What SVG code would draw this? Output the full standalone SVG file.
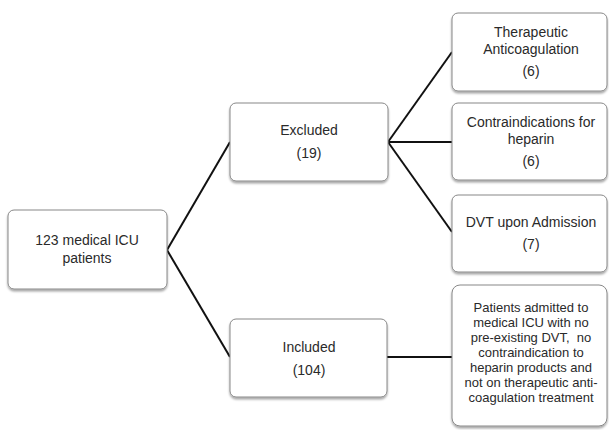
<svg xmlns="http://www.w3.org/2000/svg" width="609" height="430" viewBox="0 0 609 430">
<defs>
<filter id="sh" x="-10%" y="-10%" width="120%" height="130%">
<feDropShadow dx="0" dy="2" stdDeviation="1.2" flood-color="#000" flood-opacity="0.35"/>
</filter>
</defs>
<style>
.box{fill:#fff;stroke:#888;stroke-width:1;filter:url(#sh)}
.t{font-family:"Liberation Sans",Arial,sans-serif;font-size:14px;fill:#2a2a2a;text-anchor:middle}
.s{font-size:13px}
.c{stroke:#111;stroke-width:2;fill:none}
</style>
<rect width="609" height="430" fill="#fff"/>
<g id="connectors">
<line class="c" x1="167" y1="250" x2="230" y2="142"/>
<line class="c" x1="167" y1="250" x2="230" y2="357"/>
<line class="c" x1="388" y1="142" x2="452" y2="52"/>
<line class="c" x1="388" y1="142" x2="452" y2="142"/>
<line class="c" x1="388" y1="142" x2="452" y2="232"/>
<line class="c" x1="387" y1="357" x2="452" y2="357"/>
</g>
<g id="n-icu">
<rect class="box" x="8" y="210" width="159" height="79" rx="6"/>
<text class="t" x="87" y="245">123 medical ICU</text>
<text class="t" x="87" y="263">patients</text>
</g>
<g id="n-excluded">
<rect class="box" x="230" y="103" width="158" height="78" rx="6"/>
<text class="t" x="309" y="135">Excluded</text>
<text class="t" x="309" y="158">(19)</text>
</g>
<g id="n-included">
<rect class="box" x="230" y="319" width="157" height="78" rx="6"/>
<text class="t" x="309" y="352">Included</text>
<text class="t" x="309" y="375">(104)</text>
</g>
<g id="n-therapeutic">
<rect class="box" x="452" y="13" width="155" height="78" rx="6"/>
<text class="t" x="531" y="37">Therapeutic</text>
<text class="t" x="531" y="54">Anticoagulation</text>
<text class="t" x="531" y="76">(6)</text>
</g>
<g id="n-contra">
<rect class="box" x="452" y="103" width="155" height="77" rx="6"/>
<text class="t" x="531" y="127">Contraindications for</text>
<text class="t" x="531" y="144">heparin</text>
<text class="t" x="531" y="166">(6)</text>
</g>
<g id="n-dvt">
<rect class="box" x="452" y="195" width="155" height="77" rx="6"/>
<text class="t" x="531" y="227">DVT upon Admission</text>
<text class="t" x="531" y="249">(7)</text>
</g>
<g id="n-patients">
<rect class="box" x="452" y="285" width="155" height="141" rx="8"/>
<text class="t s" x="531" y="312">Patients admitted to</text>
<text class="t s" x="531" y="327">medical ICU with no</text>
<text class="t s" x="531" y="342" xml:space="preserve">pre-existing DVT,  no</text>
<text class="t s" x="531" y="357">contraindication to</text>
<text class="t s" x="531" y="372">heparin products and</text>
<text class="t s" x="531" y="387">not on therapeutic anti-</text>
<text class="t s" x="531" y="402">coagulation treatment</text>
</g>
</svg>
